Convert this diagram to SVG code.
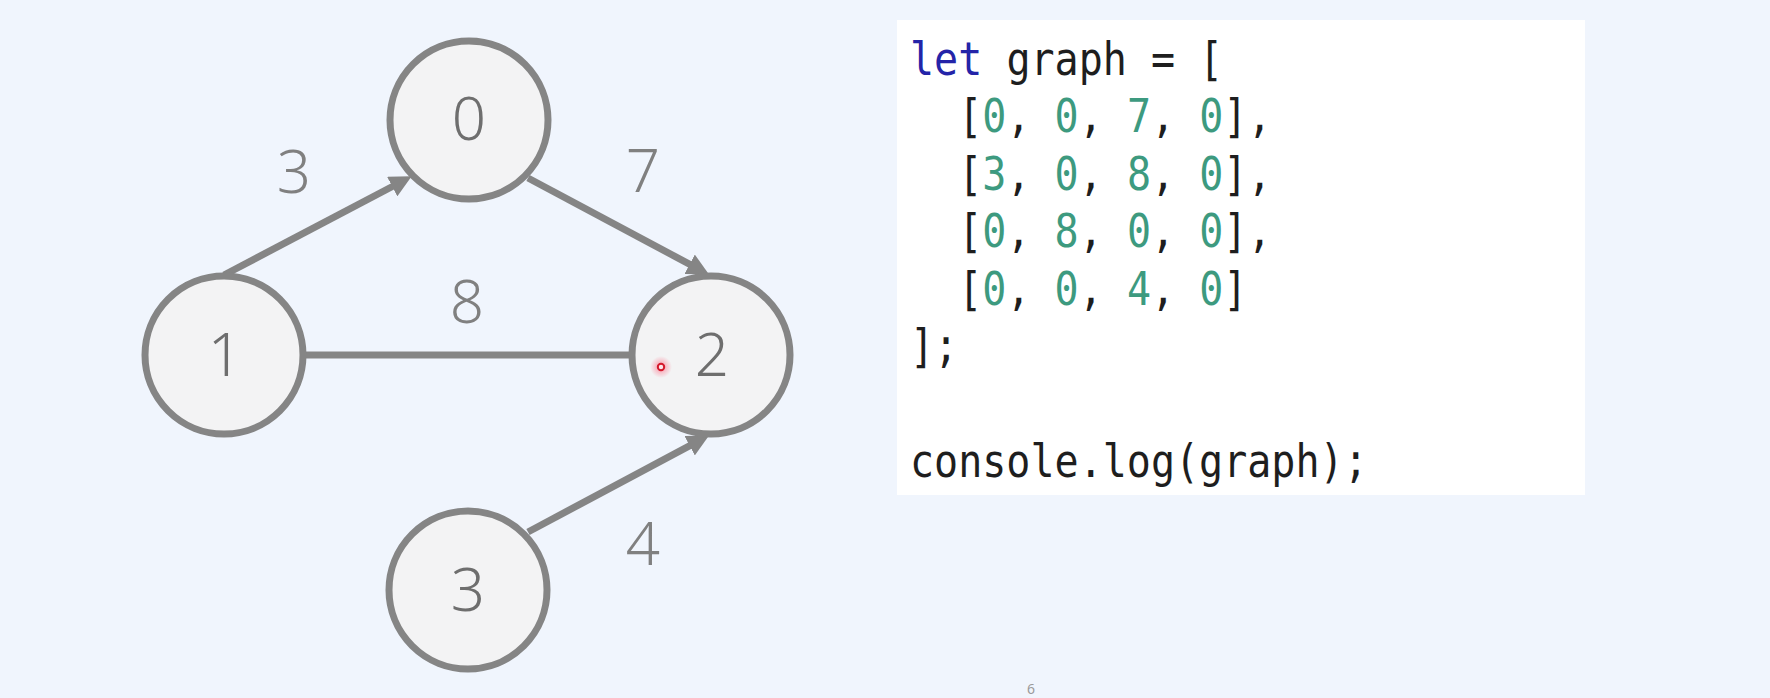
<svg xmlns="http://www.w3.org/2000/svg" width="1770" height="698" viewBox="0 0 1770 698">
  <defs>
    <style>
      .node circle { fill: #f3f3f4; stroke: #858585; stroke-width: 7; }
      .nlabel { font-family: "Noto Sans", "DejaVu Sans", sans-serif; font-weight: 300; font-size: 60px; fill: #6e6e6e; text-anchor: middle; }
      .elabel { font-family: "Noto Sans", "DejaVu Sans", sans-serif; font-weight: 300; font-size: 60px; fill: #808080; text-anchor: middle; }
      .edge { stroke: #858585; stroke-width: 7; fill: none; }
      .code { font-family: "DejaVu Sans Mono", "Liberation Mono", monospace; font-size: 46px; fill: #1e1e1e; }
      .kw { fill: #2424a8; }
      .num { fill: #3d9a7f; }
    </style>
    <marker id="arrow" markerUnits="userSpaceOnUse" markerWidth="22" markerHeight="22" viewBox="0 0 20 20" refX="8" refY="10" orient="auto">
      <path d="M0,0 L20,10 L0,20 z" fill="#858585"/>
    </marker>
    <radialGradient id="glow">
      <stop offset="0" stop-color="#ff4060" stop-opacity="0.55"/>
      <stop offset="1" stop-color="#ff4060" stop-opacity="0"/>
    </radialGradient>
  </defs>

  <rect x="0" y="0" width="1770" height="698" fill="#f0f5fd"/>

  <g id="connectors">
    <line class="edge" x1="224" y1="275" x2="400" y2="182.5" marker-end="url(#arrow)"/>
    <line class="edge" x1="528" y1="178" x2="697.4" y2="268.4" marker-end="url(#arrow)"/>
    <line class="edge" x1="305" y1="355" x2="630" y2="355"/>
    <line class="edge" x1="528" y1="532" x2="697.4" y2="441.6" marker-end="url(#arrow)"/>
    <text class="elabel" x="294" y="193">3</text>
    <text class="elabel" x="643" y="192">7</text>
    <text class="elabel" x="467" y="323">8</text>
    <text class="elabel" x="643" y="565">4</text>
  </g>

  <g id="node-0" class="node">
    <circle cx="469" cy="120" r="79"/>
    <text class="nlabel" x="469" y="140">0</text>
  </g>
  <g id="node-1" class="node">
    <circle cx="224" cy="355" r="79"/>
    <text class="nlabel" x="225" y="376">1</text>
  </g>
  <g id="node-2" class="node">
    <circle cx="711" cy="355" r="79"/>
    <text class="nlabel" x="712" y="376">2</text>
  </g>
  <g id="node-3" class="node">
    <circle cx="468" cy="590" r="79"/>
    <text class="nlabel" x="468" y="611">3</text>
  </g>

  <g id="cursor">
    <circle cx="661" cy="367" r="11" fill="url(#glow)"/>
    <circle cx="661" cy="367" r="3.2" fill="#fbe6ea" stroke="#d4192c" stroke-width="2"/>
  </g>

  <g id="code-box">
    <rect x="897" y="20" width="688" height="475" fill="#ffffff"/>
    <g transform="translate(910,0) scale(0.87,1)">
      <text class="code" x="0" y="75"><tspan class="kw">let</tspan> graph = [</text>
      <text class="code" x="0" y="132.5" xml:space="preserve">  [<tspan class="num">0</tspan>, <tspan class="num">0</tspan>, <tspan class="num">7</tspan>, <tspan class="num">0</tspan>],</text>
      <text class="code" x="0" y="190" xml:space="preserve">  [<tspan class="num">3</tspan>, <tspan class="num">0</tspan>, <tspan class="num">8</tspan>, <tspan class="num">0</tspan>],</text>
      <text class="code" x="0" y="247.5" xml:space="preserve">  [<tspan class="num">0</tspan>, <tspan class="num">8</tspan>, <tspan class="num">0</tspan>, <tspan class="num">0</tspan>],</text>
      <text class="code" x="0" y="305" xml:space="preserve">  [<tspan class="num">0</tspan>, <tspan class="num">0</tspan>, <tspan class="num">4</tspan>, <tspan class="num">0</tspan>]</text>
      <text class="code" x="0" y="362.5">];</text>
      <text class="code" x="0" y="477.5">console.log(graph);</text>
    </g>
  </g>

  <text x="1031" y="694" font-family="Noto Sans, DejaVu Sans, sans-serif" font-size="14" fill="#9a9a9a" text-anchor="middle">6</text>
</svg>
